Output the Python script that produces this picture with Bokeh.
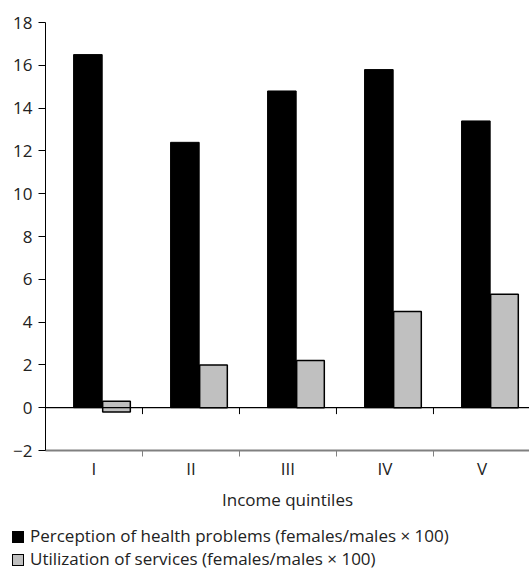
import numpy as np
from bokeh.plotting import figure
from bokeh.layouts import column
from bokeh.models import ColumnDataSource, FixedTicker, Span, Range1d, Div
from bokeh.embed import file_html
from bokeh.resources import INLINE
from bokeh.transform import dodge

# ---- data ----
quintiles = ["I", "II", "III", "IV", "V"]
perception = [16.5, 12.4, 14.8, 15.8, 13.4]
utilization = [0.3, 2.0, 2.2, 4.5, 5.3]
utilization_base = [-0.2, 0.0, 0.0, 0.0, 0.0]
y_ticks = [-2, 0, 2, 4, 6, 8, 10, 12, 14, 16, 18]
series_labels = ["Perception of health problems (females/males \u00d7 100)",
                 "Utilization of services (females/males \u00d7 100)"]
x_title = "Income quintiles"

FONT = "Open Sans"
TXT = "#222222"
FS = "17px"
BLACK = "#000000"
GREY = "#c0c0c0"
series_colors = [BLACK, GREY]

centers = [i + 0.5 for i in range(len(quintiles))]
boundaries = [i + 1 for i in range(len(quintiles) - 1)]
src = ColumnDataSource(dict(x=centers, perception=perception,
                            util=utilization, base=utilization_base))

p = figure(width=529, height=520, x_range=Range1d(0, 4.99), y_range=Range1d(-2, 18),
           output_backend="svg", toolbar_location=None,
           min_border_left=45, min_border_top=22, min_border_right=0, min_border_bottom=70)
p.outline_line_color = None
p.xgrid.visible = False
p.ygrid.visible = False

p.vbar(x=dodge("x", -0.063, range=p.x_range), top="perception", bottom=0, width=0.295,
       source=src, fill_color=series_colors[0], line_color=BLACK, line_width=1)
p.vbar(x=dodge("x", 0.232, range=p.x_range), top="util", bottom="base", width=0.285,
       source=src, fill_color=series_colors[1], line_color=BLACK, line_width=1.5)

# zero line with boundary ticks
p.add_layout(Span(location=0, dimension="width", line_color="black", line_width=1.2))
p.segment(x0=boundaries, x1=boundaries, y0=[0] * len(boundaries), y1=[-0.3] * len(boundaries),
          line_color="black", line_width=1)

# x axis
xa = p.xaxis[0]
xa.ticker = FixedTicker(ticks=centers, minor_ticks=boundaries)
xa.major_label_overrides = {c: q for c, q in zip(centers, quintiles)}
xa.major_tick_line_color = None
xa.major_tick_out = 0
xa.major_tick_in = 0
xa.minor_tick_out = 6
xa.minor_tick_in = 0
xa.minor_tick_line_color = "#808080"
xa.axis_line_color = "#808080"
xa.axis_line_width = 2
xa.major_label_standoff = 0
xa.major_label_text_font = FONT
xa.major_label_text_font_size = FS
xa.major_label_text_color = TXT
xa.axis_label = x_title
xa.axis_label_text_font = FONT
xa.axis_label_text_font_size = FS
xa.axis_label_text_font_style = "normal"
xa.axis_label_text_color = TXT
xa.axis_label_standoff = 5

# y axis
ya = p.yaxis[0]
ya.ticker = FixedTicker(ticks=y_ticks, minor_ticks=[])
ya.major_label_overrides = {-2: "\u22122"}
ya.major_tick_out = 7
ya.major_tick_in = 0
ya.axis_line_color = "black"
ya.major_tick_line_color = "black"
ya.major_label_standoff = 6
ya.major_label_text_font = FONT
ya.major_label_text_font_size = FS
ya.major_label_text_color = TXT

# ---- legend (below the chart) ----
rows = "".join(
    f'<div style="display:flex;align-items:center;height:23px;white-space:nowrap;">'
    f'<span style="display:inline-block;width:12px;height:12px;background:{c};'
    f'border:1px solid #000;margin-right:6px;"></span>{lab}</div>'
    for lab, c in zip(series_labels, series_colors))
legend_div = Div(text=f'<div style="font-family:\'{FONT}\';font-size:{FS};color:{TXT};'
                      f'padding:5px 0 0 12px;">{rows}</div>',
                 width=529, height=52, margin=(0, 0, 0, 0))

layout = column(p, legend_div, spacing=0)
open("out.html", "w").write(file_html(layout, INLINE))
